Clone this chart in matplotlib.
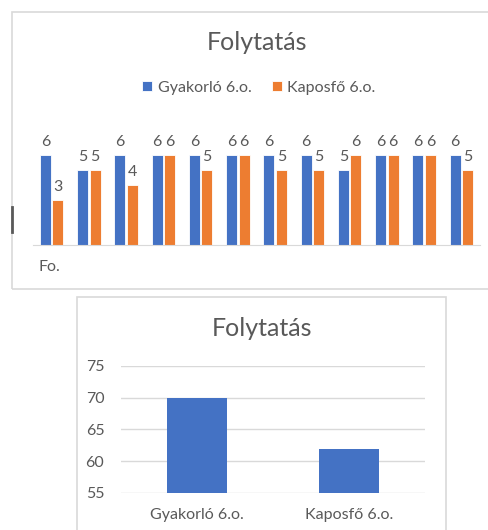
import matplotlib.pyplot as plt
from matplotlib.patches import Rectangle
from matplotlib.lines import Line2D

W, H = 489, 530

series = ["Gyakorló 6.o.", "Kaposfő 6.o."]
gyakorlo = [6, 5, 6, 6, 6, 6, 6, 6, 5, 6, 6, 6]
kaposfo = [3, 5, 4, 6, 5, 6, 5, 5, 6, 6, 6, 5]
totals = [70, 62]
yticks = [55, 60, 65, 70, 75]

BLUE = "#4472C4"
ORANGE = "#ED7D31"
TXT = "#595959"
GRID = "#D9D9D9"

plt.rcParams["font.family"] = ["Lato", "DejaVu Sans"]

fig = plt.figure(figsize=(W / 100, H / 100), dpi=100)


def box(x0, y0, x1, y1):
    # pixel box (top-left origin) -> figure fraction rect
    return [x0 / W, 1 - y1 / H, (x1 - x0) / W, (y1 - y0) / H]


# chart borders
fig.patches.append(Rectangle((12 / W, 1 - 289 / H), (W + 5) / W, 277 / H,
                             transform=fig.transFigure, fill=False,
                             ec=GRID, lw=1.2))
fig.patches.append(Rectangle((77 / W, -0.05), 369 / W, 0.05 + (H - 297) / H,
                             transform=fig.transFigure, fill=False,
                             ec=GRID, lw=1.2, zorder=0))
fig.lines.append(Line2D([12 / W, 12 / W], [1 - 207 / H, 1 - 232 / H],
                        transform=fig.transFigure, color=TXT, lw=2))

# top chart
ax = fig.add_axes(box(33, 155, 480, 245))
x = list(range(len(gyakorlo)))
off = 0.168
w = 0.29
b1 = ax.bar([i - off for i in x], gyakorlo, w, color=BLUE, ec="white", lw=0.6)
b2 = ax.bar([i + off for i in x], kaposfo, w, color=ORANGE, ec="white", lw=0.6)
for bars in (b1, b2):
    for r in bars:
        ax.annotate(str(int(r.get_height())),
                    (r.get_x() + r.get_width() / 2, r.get_height()),
                    xytext=(0, 4), textcoords="offset points",
                    ha="center", va="bottom", fontsize=11.5, color=TXT,
                    annotation_clip=False)
ax.set_xlim(-0.5, len(gyakorlo) - 0.5)
ax.set_ylim(0, 6)
ax.set_xticks([])
ax.set_yticks([])
for s in ["top", "right", "left"]:
    ax.spines[s].set_visible(False)
ax.spines["bottom"].set_color(GRID)
ax.patch.set_alpha(0)

fig.text(257 / W, 1 - 43 / H, "Folytatás", ha="center", va="center",
         fontsize=18, color=TXT)
fig.legend([b1, b2], series, loc="center", bbox_to_anchor=(259 / W, 1 - 88 / H),
           ncol=2, frameon=False, fontsize=11.5, labelcolor=TXT,
           handlelength=0.6, handleheight=0.6, handletextpad=0.35,
           columnspacing=1.3)
fig.text(38 / W, 1 - 267 / H, "Fo.", ha="left", va="center",
         fontsize=11.5, color=TXT)

# bottom chart
ax2 = fig.add_axes(box(121, 366, 425, 493))
ax2.bar([0, 1], totals, 0.39, color=BLUE, zorder=3)
ax2.set_xlim(-0.5, 1.5)
ax2.set_ylim(yticks[0], yticks[-1])
ax2.set_yticks(yticks)
ax2.set_xticks([0, 1])
ax2.set_xticklabels(series)
ax2.tick_params(length=0, labelsize=11.5, labelcolor=TXT)
ax2.tick_params(axis="y", pad=12)
ax2.tick_params(axis="x", pad=11)
ax2.grid(axis="y", color=GRID, lw=1, zorder=0)
for s in ax2.spines.values():
    s.set_visible(False)
fig.text(262 / W, 1 - 328 / H, "Folytatás", ha="center", va="center",
         fontsize=18, color=TXT)

fig.savefig("out.png", dpi=100)
